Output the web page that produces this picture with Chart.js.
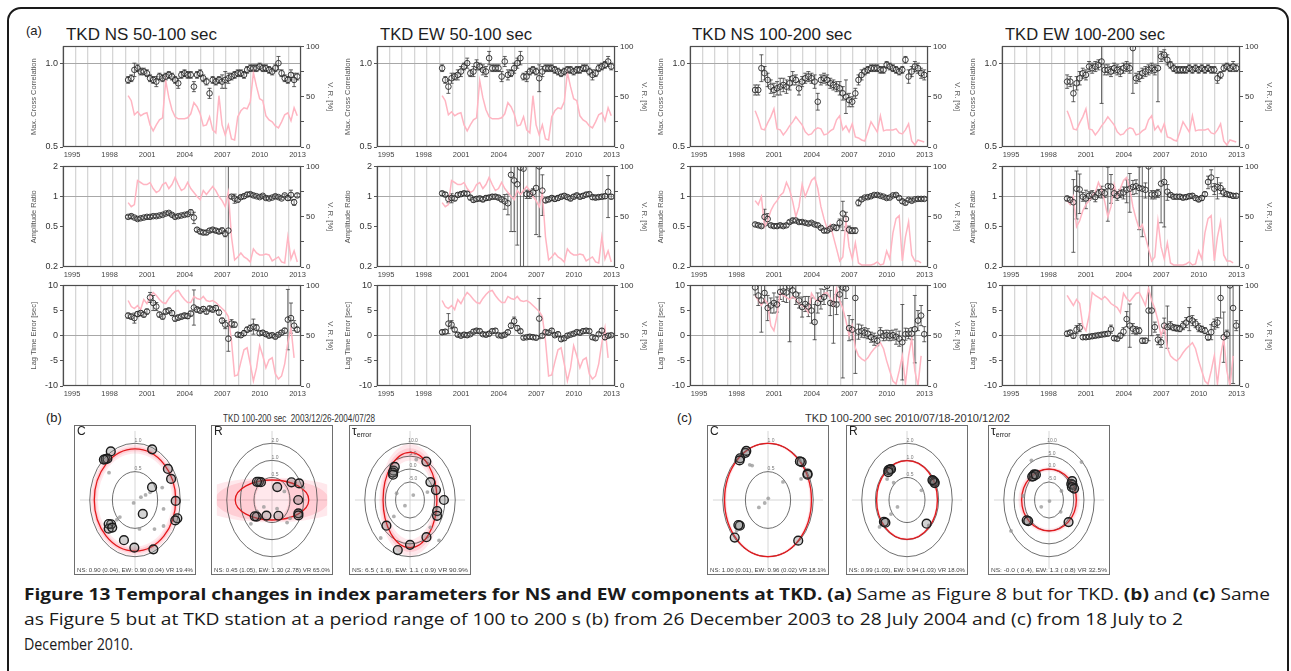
<!DOCTYPE html>
<html>
<head>
<meta charset="utf-8">
<title>TKD index parameters</title>
<script src="https://cdn.jsdelivr.net/npm/chart.js@4.4.1/dist/chart.umd.min.js"></script>
<style>
  html, body { margin: 0; padding: 0; background: #fff; }
  #page { position: relative; width: 1291px; height: 671px; overflow: hidden; font-family: 'Liberation Sans', Arial, sans-serif; color: #222; }
  #page canvas { position: absolute; }
  .txt { position: absolute; white-space: nowrap; transform-origin: 0 0; line-height: 1.15; }
  #border { position: absolute; left: 7px; top: 7px; width: 1278px; height: 720px; border: 2px solid #1a1a1a; border-radius: 14px; }
  .ttl { font-size: 17px; top: 25px; color: #1e1e1e; }
  .tag { font-size: 13px; color: #222; }
  .ptl { font-size: 11px; top: 412px; color: #333; }
  .plet { font-size: 12px; top: 425px; color: #222; }
  .plet sub { font-size: 7px; vertical-align: -2px; }
  .pns { font-size: 6px; top: 567px; color: #444; }
  .cap { font-family: 'Open Sans', sans-serif; font-size: 16px; color: #1a1a1a; line-height: 20px; }
</style>
</head>
<body>
<div id="page">
  <div id="border"></div>

  <div class="txt tag" style="left:26px;top:24px;">(a)</div>
  <div class="txt ttl" style="left:66px" data-w="151">TKD NS 50-100 sec</div>
  <div class="txt ttl" style="left:380px" data-w="152">TKD EW 50-100 sec</div>
  <div class="txt ttl" style="left:692px" data-w="160">TKD NS 100-200 sec</div>
  <div class="txt ttl" style="left:1005px" data-w="160">TKD EW 100-200 sec</div>

  <div class="txt tag" style="left:46px;top:411px;">(b)</div>
  <div class="txt ptl" style="left:223px" data-w="152">TKD 100-200 sec&nbsp; 2003/12/26-2004/07/28</div>
  <div class="txt tag" style="left:677px;top:411px;">(c)</div>
  <div class="txt ptl" style="left:805px" data-w="205">TKD 100-200 sec 2010/07/18-2010/12/02</div>

  <div class="txt cap" style="left:24px;top:584px" data-w="1246"><b>Figure 13 Temporal changes in index parameters for NS and EW components at TKD.</b> <b>(a)</b> Same as Figure 8 but for TKD. <b>(b)</b> and <b>(c)</b> Same</div>
  <div class="txt cap" style="left:24px;top:609px" data-w="1159">as Figure 5 but at TKD station at a period range of 100 to 200 s (b) from 26 December 2003 to 28 July 2004 and (c) from 18 July to 2</div>
  <div class="txt cap" style="left:24px;top:634px" data-w="109">December 2010.</div>
</div>

<script>
// ---- time axis ----
const years = [2000.2, 2000.45, 2000.7, 2000.95, 2001.2, 2001.45, 2001.7, 2001.95, 2002.2, 2002.45,
  2002.7, 2002.95, 2003.2, 2003.45, 2003.7, 2003.95, 2004.2, 2004.45, 2004.7, 2004.95,
  2005.2, 2005.45, 2005.7, 2005.95, 2006.2, 2006.45, 2006.7, 2006.95, 2007.2, 2007.45,
  2007.7, 2007.95, 2008.2, 2008.45, 2008.7, 2008.95, 2009.2, 2009.45, 2009.7, 2009.95,
  2010.2, 2010.45, 2010.7, 2010.95, 2011.2, 2011.45, 2011.7, 2011.95, 2012.2, 2012.45,
  2012.7, 2012.95, 2013.2, 2013.45, 2013.7];
const yearTicks = [1995, 1996, 1997, 1998, 1999, 2000, 2001, 2002, 2003, 2004, 2005, 2006, 2007, 2008, 2009, 2010, 2011, 2012, 2013, 2014];
const yearLabels = [1995, 1998, 2001, 2004, 2007, 2010, 2013];
const ccTicks = [0.5, 1.0];
const ratioTicks = [0.2, 0.5, 1, 2];
const lagTicks = [-10, -5, 0, 5, 10];
const vrTicks = [0, 25, 50, 75, 100];
const vrLabels = [0, 50, 100];

// ---- max cross correlation ----
const ccNS50 = [0.90,0.91,0.96,0.97,0.95,0.95,0.94,0.91,0.90,0.89,0.92,0.91,0.92,0.93,0.92,0.90,0.88,0.93,0.94,0.93,
  0.93,0.86,0.93,0.94,0.91,0.89,0.82,0.90,0.89,0.90,0.89,0.90,0.91,0.92,0.93,0.94,0.94,0.93,0.96,0.97,
  0.97,0.97,0.98,0.97,0.97,0.96,0.95,0.97,1.00,0.94,0.91,0.90,0.93,0.90,0.92];
const ccNS50Err = [0.02,0.02,0.04,0.02,0.02,0.02,0.02,0.02,0.02,0.03,0.02,0.02,0.02,0.02,0.02,0.02,0.03,0.02,0.02,0.02,
  0.02,0.03,0.02,0.02,0.02,0.02,0.03,0.02,0.02,0.02,0.04,0.05,0.03,0.02,0.02,0.02,0.02,0.02,0.02,0.02,
  0.02,0.02,0.02,0.02,0.02,0.02,0.02,0.02,0.04,0.02,0.02,0.02,0.03,0.04,0.02];
const ccEW50 = [0.97,0.90,0.86,0.91,0.92,0.93,0.95,0.98,1.00,0.94,0.95,0.99,0.98,0.96,0.95,1.03,0.97,0.97,0.97,0.92,
  1.01,0.93,0.94,0.97,1.00,1.03,0.92,0.92,0.95,0.96,0.95,0.91,0.95,0.97,0.97,0.97,0.96,0.95,0.94,0.95,
  0.96,0.96,0.95,0.96,0.96,0.97,0.97,0.95,0.93,0.94,0.97,0.98,0.99,1.01,0.98];
const ccEW50Err = [0.02,0.02,0.04,0.03,0.02,0.03,0.03,0.02,0.03,0.02,0.03,0.03,0.02,0.03,0.03,0.04,0.02,0.02,0.02,0.03,
  0.03,0.03,0.02,0.03,0.03,0.04,0.02,0.03,0.02,0.02,0.02,0.08,0.03,0.02,0.02,0.02,0.02,0.02,0.02,0.02,
  0.02,0.02,0.02,0.02,0.02,0.02,0.02,0.02,0.03,0.02,0.02,0.02,0.02,0.03,0.02];
const ccNS100 = [0.84,0.84,0.97,0.94,0.90,0.86,0.84,0.85,0.86,0.87,0.86,0.88,0.91,0.90,0.85,0.89,0.91,0.92,0.91,0.89,
  0.77,0.90,0.91,0.90,0.88,0.87,0.86,0.85,0.82,0.80,0.78,0.77,0.82,0.90,0.93,0.95,0.96,0.97,0.97,0.97,
  0.96,0.96,0.99,0.98,0.97,0.96,0.95,0.96,1.02,0.92,0.95,0.98,0.97,0.94,0.93];
const ccNS100Err = [0.03,0.03,0.08,0.04,0.04,0.04,0.04,0.04,0.05,0.04,0.04,0.04,0.04,0.03,0.04,0.03,0.03,0.03,0.03,0.04,
  0.05,0.03,0.03,0.03,0.03,0.03,0.03,0.04,0.04,0.10,0.04,0.03,0.03,0.03,0.03,0.02,0.02,0.02,0.02,0.02,
  0.02,0.02,0.02,0.02,0.02,0.02,0.02,0.02,0.02,0.04,0.03,0.03,0.03,0.03,0.03];
const ccEW100 = [0.89,0.89,0.82,0.88,0.91,0.94,0.93,0.98,0.97,0.98,0.99,1.01,0.96,0.96,0.95,0.97,0.96,0.95,0.97,0.98,
  0.97,1.09,0.91,0.92,0.94,0.95,0.96,0.97,0.96,0.97,1.04,1.05,1.02,0.99,0.97,0.96,0.96,0.96,0.96,0.97,
  0.96,0.97,0.96,0.97,0.96,0.97,0.96,0.96,0.91,0.93,0.97,0.98,0.97,0.98,0.97];
const ccEW100Err = [0.04,0.03,0.05,0.04,0.04,0.03,0.03,0.03,0.03,0.03,0.03,0.25,0.03,0.03,0.03,0.03,0.03,0.03,0.03,0.03,
  0.03,0.27,0.03,0.03,0.03,0.03,0.03,0.03,0.03,0.20,0.03,0.03,0.03,0.02,0.02,0.02,0.02,0.02,0.02,0.02,
  0.02,0.02,0.02,0.02,0.02,0.02,0.02,0.02,0.03,0.02,0.02,0.02,0.02,0.03,0.02];

// ---- amplitude ratio ----
const arNS50 = [0.63,0.64,0.62,0.60,0.61,0.62,0.63,0.63,0.64,0.64,0.65,0.66,0.68,0.69,0.66,0.63,0.64,0.65,0.66,0.67,
  0.70,0.62,0.47,0.45,0.44,0.44,0.46,0.47,0.46,0.45,0.46,0.43,0.46,1.00,0.96,0.93,0.99,1.01,1.05,1.06,
  1.03,1.01,0.99,1.02,0.97,0.96,0.98,1.01,0.99,0.96,1.03,0.97,1.04,0.88,1.03];
const arNS50Err = [0.02,0.03,0.02,0.02,0.02,0.02,0.02,0.02,0.02,0.02,0.02,0.02,0.02,0.02,0.02,0.02,0.02,0.02,0.02,0.03,
  0.04,0.08,0.02,0.02,0.02,0.02,0.02,0.02,0.02,0.02,0.03,0.03,3.00,0.04,0.10,0.04,0.04,0.05,0.05,0.04,
  0.04,0.03,0.03,0.03,0.03,0.03,0.03,0.04,0.03,0.03,0.03,0.05,0.12,0.06,0.04];
const arEW50 = [1.08,1.05,0.95,0.97,0.96,1.04,1.06,1.08,1.07,0.98,0.93,0.95,0.96,0.94,0.97,0.98,1.00,1.00,0.98,0.94,
  0.90,0.86,1.65,1.45,1.33,1.95,1.90,1.06,1.06,1.10,1.22,2.00,1.15,0.92,0.94,0.97,0.95,0.97,1.00,1.02,
  0.99,0.96,1.00,1.03,1.00,1.02,1.05,1.06,0.99,0.98,0.99,1.00,1.01,1.12,1.00];
const arEW50Err = [0.05,0.05,0.08,0.10,0.05,0.05,0.05,0.05,0.05,0.05,0.05,0.05,0.05,0.05,0.05,0.05,0.05,0.05,0.05,0.05,
  0.15,0.20,1.20,1.00,1.00,1.80,1.70,0.10,0.10,0.10,0.80,1.60,0.50,0.05,0.05,0.05,0.05,0.05,0.05,0.05,
  0.05,0.05,0.05,0.05,0.05,0.05,0.05,0.05,0.05,0.05,0.05,0.05,0.05,0.50,0.05];
const arNS100 = [0.53,0.52,0.51,0.63,0.60,0.52,0.51,0.51,0.52,0.51,0.52,0.56,0.58,0.58,0.56,0.56,0.55,0.54,0.55,0.53,
  0.52,0.49,0.46,0.46,0.48,0.50,0.49,0.55,0.68,0.60,0.47,0.46,0.46,0.87,0.94,0.98,0.99,1.01,1.04,1.04,
  1.02,1.00,0.97,0.98,1.03,1.04,0.97,0.90,0.87,0.93,0.91,0.94,0.95,0.95,0.95];
const arNS100Err = [0.02,0.02,0.02,0.12,0.08,0.02,0.02,0.02,0.02,0.02,0.02,0.02,0.03,0.02,0.02,0.02,0.02,0.02,0.02,0.02,
  0.02,0.02,0.02,0.02,0.02,0.02,0.03,0.05,0.22,0.10,0.04,0.03,0.03,0.06,0.04,0.03,0.03,0.03,0.03,0.03,
  0.03,0.03,0.03,0.03,0.03,0.03,0.04,0.04,0.04,0.03,0.03,0.03,0.03,0.03,0.03];
const arEW100 = [0.96,0.93,0.88,1.20,1.18,1.00,0.96,1.02,1.05,0.99,1.08,1.12,1.08,1.27,1.26,1.08,1.02,1.08,1.10,1.17,
  1.20,1.25,1.27,1.22,1.20,1.17,2.00,1.05,1.05,1.08,1.35,1.40,1.12,1.04,1.00,1.00,1.00,0.98,0.99,1.01,
  1.02,0.97,0.94,0.97,1.06,1.40,1.55,1.20,1.25,1.22,1.10,1.06,1.04,1.02,1.02];
const arEW100Err = [0.05,0.05,0.60,0.60,0.50,0.10,0.20,0.10,0.10,0.10,0.10,0.15,0.10,0.70,0.40,0.10,0.10,0.10,0.15,0.30,
  0.50,0.20,0.20,0.75,0.80,0.20,2.50,0.10,0.10,0.10,0.80,0.90,0.20,0.05,0.05,0.05,0.05,0.05,0.05,0.05,
  0.05,0.05,0.05,0.05,0.05,0.20,0.30,0.15,0.30,0.15,0.10,0.05,0.05,0.05,0.05];

// ---- lag time error ----
const lagNS50 = [4.0,3.8,3.5,4.3,4.5,4.2,4.8,7.6,6.5,5.8,4.2,3.8,4.8,5.0,4.5,3.4,3.6,3.8,4.0,3.9,
  4.4,5.6,5.2,5.0,5.3,4.8,5.4,5.2,5.5,4.6,3.0,2.2,-0.6,2.4,2.2,0.2,0.1,0.5,1.2,1.5,
  1.8,1.6,0.5,0.6,0.3,0.0,0.1,-0.2,0.2,0.6,1.0,3.2,3.5,2.0,1.2];
const lagNS50Err = [0.5,0.5,1.0,0.5,0.5,0.5,0.5,1.0,1.5,0.8,0.5,0.5,0.5,0.5,0.5,0.5,0.5,0.5,0.5,0.5,
  0.5,3.5,0.5,0.5,0.5,0.5,0.5,0.5,0.5,0.5,0.5,0.8,2.5,0.8,0.5,0.4,0.4,0.5,0.5,0.6,
  1.5,0.6,0.4,0.4,0.4,0.4,0.4,0.4,0.4,0.4,0.5,6.0,3.0,1.0,0.5];
const lagEW50 = [0.7,0.8,2.4,2.2,1.2,0.2,0.0,0.2,0.1,0.3,0.8,1.0,0.9,0.3,0.2,0.4,0.9,1.0,0.1,0.0,
  0.2,0.7,2.0,2.9,1.5,0.9,-0.4,-0.3,-0.2,-0.3,-0.4,3.4,0.0,0.7,0.6,1.0,0.1,0.3,-0.7,-0.5,
  0.0,0.2,0.4,0.7,0.6,0.9,1.0,0.9,-0.3,-0.5,0.3,1.0,-0.3,0.0,0.1];
const lagEW50Err = [0.4,0.4,2.0,0.8,0.4,0.4,0.3,0.4,0.4,0.3,0.4,0.4,0.4,0.3,0.4,0.4,0.4,0.4,0.3,0.4,
  0.4,0.4,0.5,0.8,0.5,0.4,0.3,0.3,0.4,0.4,0.4,4.0,0.4,0.4,0.4,0.4,0.3,0.4,0.4,0.4,
  0.4,0.3,0.4,0.4,0.4,0.4,0.4,0.4,0.4,0.4,0.3,0.4,0.5,0.4,0.3];
const lagNS100 = [9.6,8.0,7.0,8.5,5.5,6.0,6.5,6.2,8.7,8.8,8.6,9.8,9.0,8.2,7.0,5.7,6.3,5.8,5.0,2.7,
  6.5,7.3,7.7,9.9,6.5,6.3,6.2,8.2,9.6,9.4,1.5,1.2,7.5,0.8,0.9,0.6,0.4,-0.3,-0.7,-1.0,
  0.6,0.0,0.1,0.0,0.1,-0.2,-0.6,-1.3,0.3,0.4,0.4,1.3,3.0,4.0,0.3];
const lagNS100Err = [1.5,2.0,6.3,2.0,2.5,1.5,2.0,1.5,1.5,2.0,2.0,11.0,1.5,2.0,1.5,2.0,1.5,2.0,2.5,3.5,
  2.0,2.0,1.5,2.0,2.5,7.8,2.0,1.5,18.0,2.0,2.5,2.0,15.0,1.5,1.2,1.0,1.0,1.0,1.2,1.0,
  1.0,1.0,1.0,1.0,1.0,1.5,1.5,7.5,1.2,1.0,1.2,6.7,2.0,2.0,1.5];
const lagEW100 = [0.4,0.6,0.0,1.2,1.6,-0.3,-0.3,-0.2,-0.1,0.0,0.1,0.2,0.3,0.4,1.3,-0.5,-0.6,0.0,0.8,3.3,
  2.0,1.4,1.0,1.0,-1.0,-1.0,5.0,5.0,1.7,-0.8,-1.3,2.0,1.7,2.0,1.6,1.5,1.4,2.0,2.6,3.3,
  3.0,2.4,1.6,1.3,1.0,-0.3,0.7,2.3,2.6,7.5,-0.3,0.3,10.0,5.5,2.0];
const lagEW100Err = [0.5,0.5,0.5,0.8,0.8,0.4,0.4,0.4,0.4,0.4,0.4,0.4,0.4,0.4,0.8,0.4,0.4,0.5,0.8,1.5,
  4.3,1.0,0.8,0.6,0.5,0.5,6.0,5.0,1.0,1.0,1.0,1.5,4.2,0.8,0.6,0.6,0.6,0.8,1.0,2.3,
  1.0,0.8,0.8,0.6,0.6,0.6,1.5,1.0,1.0,4.0,5.0,0.8,20.0,15.0,1.0];

// ---- variance reduction [%] (shared by NS and EW) ----
const vrCC50 = [51,46,32,35,31,33,34,22,16,22,27,29,66,49,37,30,28,28,28,29,
  33,44,40,33,21,22,30,17,14,51,22,12,22,8,7,30,36,39,38,45,
  74,60,48,46,31,27,25,21,19,25,32,34,26,39,31];
const vrCC100 = [36,28,18,17,24,30,38,18,17,12,16,21,25,30,26,22,15,12,13,17,
  19,18,12,13,16,18,27,31,17,21,15,23,10,9,7,6,15,25,20,15,
  31,16,17,17,17,18,14,13,17,23,6,2,7,6,5];
const vrAR50 = [64,60,62,86,84,82,82,84,78,74,76,82,84,78,82,89,82,76,78,84,
  78,74,70,67,76,72,76,80,76,70,66,60,74,30,7,10,14,10,8,5,
  18,14,12,12,13,12,6,8,10,5,4,30,8,16,5];
const vrAR100 = [66,62,70,40,46,56,62,66,71,74,84,77,65,50,60,82,70,78,86,89,
  78,60,48,38,42,30,18,6,10,46,20,8,24,4,2,2,2,2,3,5,
  2,3,16,8,34,48,51,6,30,45,12,6,6,4,null];
const vrLag50 = [85,79,77,80,76,86,82,88,93,90,86,83,82,87,91,94,95,90,86,83,
  83,89,87,86,89,85,84,85,83,80,77,74,69,45,10,11,24,36,38,22,
  5,18,40,30,18,26,28,12,7,10,22,43,58,28,null];
const vrLag100 = [90,85,80,86,82,60,55,70,93,90,88,86,89,86,82,80,78,73,92,87,
  84,88,92,93,87,80,97,85,77,65,50,60,38,30,27,25,28,33,37,40,
  43,37,25,15,5,2,15,30,2,30,47,15,0,30,null];

// ---- polar plots: azimuth [deg] and value of each station pair ----
const bCAz = [-32,-42,-40,-44,23,53,65,59,91,109,112,145,155,181,199,231,229,234,226];
const bCVal = [1.01,0.97,0.95,0.99,0.97,0.91,0.88,0.44,0.90,0.99,0.96,0.30,0.96,0.84,0.75,0.68,0.77,0.72,0.70];
const bCGrayAz = [-50,68,69,69,211,104,70,126,140,228,229,169];
const bCGrayVal = [0.75,0.36,0.25,0.14,0.06,0.65,0.64,0.78,0.67,0.45,0.53,0.52];
const bRAz = [-42,-38,-46,27,54,64,90,112,115,153,204,229,233];
const bRVal = [0.54,0.50,0.58,0.36,0.68,0.93,0.76,0.85,0.88,0.41,0.40,0.56,0.60];
const bRGrayAz = [239,228,236,61,129,72,140,-49,144];
const bRGrayVal = [0.49,0.85,0.33,0.41,0.65,1.05,0.66,0.51,0.31];
const bTAz = [28,-35,-30,-38,-40,55,73,90,108,115,151,180,197,229];
const bTVal = [4.9,1.9,2.8,1.5,0.8,0.1,1.2,4.5,1.9,2.5,4.5,5.4,8.3,3.2];
const bTGrayAz = [228,-68,70,104,224,138,-35,11,137,231,40];
const bTGrayVal = [-8.7,-5.0,-3.0,1.2,8.5,9.1,4.5,4.0,2.5,-1.9,-9.5];
const cCAz = [-31,-29,-40,-42,48,46,62,63,234,236,228,137];
const cCVal = [0.97,0.99,0.96,0.94,1.00,0.98,0.99,0.98,0.77,0.79,0.99,0.98];
const cCGrayAz = [-33,-30,46,10,234,237,63,232,45];
const cCGrayVal = [0.74,0.70,0.46,0.03,0.09,0.24,0.82,0.88,0.99];
const cRAz = [-35,-38,-33,-40,60,62,64,58,233,230,134];
const cRVal = [0.91,0.93,0.89,0.88,0.94,0.97,0.96,0.92,0.87,0.84,0.80];
const cRGrayAz = [-44,240,235,62,61,232,133,-50];
const cRGrayVal = [0.53,0.35,0.54,0.46,0.83,1.18,0.91,0.75];
const cTAz = [-39,-36,-42,-33,60,63,57,66,70,234,231,132];
const cTVal = [-0.1,0.3,0.2,-0.3,0.5,0.9,1.4,0.2,1.0,1.4,1.0,0.8];
const cTGrayAz = [235,60,-29,47,237,129,73,-83,150];
const cTGrayVal = [-7.4,-5.0,5.6,9.6,10.0,-4.7,1.8,0.7,-11.5];

// fitted NS / EW values with errors, and variance reduction, for b-C, b-R, b-T, c-C, c-R, c-T
const polarNS = [0.90, 0.45, 6.5, 1.00, 0.99, -0.03];
const polarNSErr = [0.04, 1.05, 1.6, 0.01, 1.03, 0.4];
const polarEW = [0.90, 1.30, 1.1, 0.96, 0.94, 1.3];
const polarEWErr = [0.04, 2.78, 0.9, 0.02, 1.03, 0.8];
const polarVR = [19.4, 65.0, 90.9, 18.1, 18.0, 32.5];

Chart.defaults.font.family = "'Liberation Sans', Arial, sans-serif";
Chart.defaults.animation = false;

const page = document.getElementById('page');

// layout of the small time-series panels
const PLOT_W = 238, PLOT_H = 102, AX_L = 36, AX_R = 36, AX_B = 16, PAD_T = 6;
const colLeft = [63, 377, 690, 1002];
const rowTop = [45, 165, 284];

const rows = [
  { type: 'linear', min: 0.5, max: 1.1, ticks: ccTicks, ref: 1.0, title: 'Max. Cross Correlation', fmt: v => v.toFixed(1), floor: -10 },
  { type: 'logarithmic', min: 0.2, max: 2, ticks: ratioTicks, ref: 1, title: 'Amplitude Ratio', fmt: v => String(v), floor: 0.01 },
  { type: 'linear', min: -10, max: 10, ticks: lagTicks, ref: 0, title: 'Lag Time Error [sec]', fmt: v => String(v), floor: -100 }
];

const frameBox = {
  id: 'frameBox',
  afterDraw(chart) {
    const { ctx, chartArea: a } = chart;
    ctx.save();
    ctx.strokeStyle = '#4d4d4d';
    ctx.lineWidth = 1.2;
    ctx.strokeRect(Math.round(a.left) + 0.5, Math.round(a.top) + 0.5, Math.round(a.right - a.left) - 1, Math.round(a.bottom - a.top) - 1);
    ctx.restore();
  }
};

function errorBars(errs, floor) {
  return {
    id: 'errorBars',
    beforeDatasetsDraw(chart) {
      const { ctx, chartArea: a, scales } = chart;
      const pts = chart.data.datasets[0].data;
      ctx.save();
      ctx.beginPath();
      ctx.rect(a.left, a.top, a.right - a.left, a.bottom - a.top);
      ctx.clip();
      ctx.strokeStyle = '#3a3a3a';
      ctx.lineWidth = 0.8;
      pts.forEach((p, i) => {
        const e = errs[i];
        if (p.y == null || !e) return;
        const px = scales.x.getPixelForValue(p.x);
        const y1 = scales.y.getPixelForValue(Math.max(p.y - e, floor));
        const y2 = scales.y.getPixelForValue(p.y + e);
        ctx.beginPath();
        ctx.moveTo(px, y1); ctx.lineTo(px, y2);
        ctx.moveTo(px - 2, y1); ctx.lineTo(px + 2, y1);
        ctx.moveTo(px - 2, y2); ctx.lineTo(px + 2, y2);
        ctx.stroke();
      });
      ctx.restore();
    }
  };
}

function seriesChart(col, row, vals, errs, vr) {
  const cfg = rows[row];
  const cv = document.createElement('canvas');
  cv.width = AX_L + PLOT_W + AX_R;
  cv.height = PAD_T + PLOT_H + AX_B;
  cv.style.left = (colLeft[col] - AX_L) + 'px';
  cv.style.top = (rowTop[row] - PAD_T) + 'px';
  page.appendChild(cv);

  new Chart(cv, {
    type: 'scatter',
    data: {
      datasets: [
        {
          data: years.map((t, i) => ({ x: t, y: vals[i] })),
          yAxisID: 'y',
          pointRadius: 2.8,
          borderColor: '#262626',
          borderWidth: 0.9,
          backgroundColor: 'rgba(255,255,255,0.15)',
          order: 0
        },
        {
          data: years.map((t, i) => ({ x: t, y: vr[i] })),
          yAxisID: 'y2',
          showLine: true,
          spanGaps: false,
          pointRadius: 0,
          borderColor: '#ffb5c2',
          borderWidth: 1.5,
          order: 1
        }
      ]
    },
    options: {
      responsive: false,
      events: [],
      layout: { padding: { top: PAD_T } },
      plugins: { legend: { display: false }, tooltip: { enabled: false } },
      scales: {
        x: {
          type: 'linear', min: 1995, max: 2014,
          afterBuildTicks: s => { s.ticks = yearTicks.map(v => ({ value: v })); },
          afterFit: s => { s.height = AX_B; },
          grid: { color: '#d6d6d6', lineWidth: 1.3, drawTicks: false },
          border: { display: false },
          ticks: {
            autoSkip: false, maxRotation: 0, minRotation: 0, labelOffset: 9, padding: 3,
            font: { size: 7.5 }, color: '#444',
            callback: v => yearLabels.includes(v) ? String(v) : ''
          }
        },
        y: {
          type: cfg.type, position: 'left', min: cfg.min, max: cfg.max,
          afterBuildTicks: s => { s.ticks = cfg.ticks.map(v => ({ value: v })); },
          afterFit: s => { s.width = AX_L; },
          grid: {
            color: c => (c.tick && c.tick.value === cfg.ref) ? '#a8a8a8' : 'rgba(0,0,0,0)',
            tickColor: '#555', tickLength: 3
          },
          border: { display: false },
          ticks: { font: { size: 9 }, color: '#333', padding: 2, callback: cfg.fmt },
          title: { display: true, text: cfg.title, font: { size: 7.5 }, color: '#555', padding: { top: 2, bottom: 0 } }
        },
        y2: {
          type: 'linear', position: 'right', min: 0, max: 100,
          afterBuildTicks: s => { s.ticks = vrTicks.map(v => ({ value: v })); },
          afterFit: s => { s.width = AX_R; },
          grid: { drawOnChartArea: false, tickColor: '#555', tickLength: 3 },
          border: { display: false },
          ticks: { font: { size: 8 }, color: '#333', padding: 2, callback: v => vrLabels.includes(v) ? String(v) : '' },
          title: { display: true, text: 'V. R. [%]', font: { size: 7.5 }, color: '#555', padding: { top: 2, bottom: 0 } }
        }
      }
    },
    plugins: [errorBars(errs, cfg.floor), frameBox]
  });
}

seriesChart(0, 0, ccNS50, ccNS50Err, vrCC50);
seriesChart(1, 0, ccEW50, ccEW50Err, vrCC50);
seriesChart(2, 0, ccNS100, ccNS100Err, vrCC100);
seriesChart(3, 0, ccEW100, ccEW100Err, vrCC100);
seriesChart(0, 1, arNS50, arNS50Err, vrAR50);
seriesChart(1, 1, arEW50, arEW50Err, vrAR50);
seriesChart(2, 1, arNS100, arNS100Err, vrAR100);
seriesChart(3, 1, arEW100, arEW100Err, vrAR100);
seriesChart(0, 2, lagNS50, lagNS50Err, vrLag50);
seriesChart(1, 2, lagEW50, lagEW50Err, vrLag50);
seriesChart(2, 2, lagNS100, lagNS100Err, vrLag100);
seriesChart(3, 2, lagEW100, lagEW100Err, vrLag100);

// ---- polar panels ----
const R_AX = 1.22, POL_W = 122, POL_H = 150, POL_TOP = 425;
const radial = {
  C: { r: v => Math.max(0, v), rings: [0.5, 1.0], band: (v, e, k) => v + 2 * k * e, fmt: v => v.toFixed(2), efmt: e => e.toFixed(2) },
  R: { r: v => v > 0.2 ? Math.log10(v / 0.2) : 0, rings: [0.5, 1.0, 2.0], band: (v, e, k) => v * Math.pow(e, 2 * k), fmt: v => v.toFixed(2), efmt: e => e.toFixed(2) },
  T: { r: v => Math.max(0, (v + 12) / 22), rings: [-5, 0, 5, 10], band: (v, e, k) => v + 2 * k * e, fmt: v => (v < 0 ? '' : ' ') + v.toFixed(1), efmt: e => ' ' + e.toFixed(1) }
};

// rings, error band and fitted ellipse (NS radius north-south, EW radius east-west)
function polarDecor(kind, ns, nsE, ew, ewE) {
  const m = radial[kind];
  return {
    id: 'polarDecor',
    beforeDatasetsDraw(chart) {
      const { ctx, chartArea: a, scales: { x, y } } = chart;
      const X = v => x.getPixelForValue(v), Y = v => y.getPixelForValue(v);
      const cx = X(0), cy = Y(0);
      const ell = (rEW, rNS) => ctx.ellipse(cx, cy, Math.max(0.01, X(rEW) - cx), Math.max(0.01, cy - Y(rNS)), 0, 0, Math.PI * 2);
      ctx.save();
      ctx.beginPath();
      ctx.rect(a.left, a.top, a.right - a.left, a.bottom - a.top);
      ctx.clip();

      ctx.strokeStyle = '#cccccc';
      ctx.lineWidth = 0.8;
      ctx.beginPath();
      ctx.moveTo(a.left, cy); ctx.lineTo(a.right, cy);
      ctx.moveTo(cx, a.top); ctx.lineTo(cx, a.bottom);
      ctx.stroke();

      [[1, 'rgba(255,120,140,0.17)'], [0.5, 'rgba(255,100,120,0.2)']].forEach(([k, col]) => {
        ctx.beginPath();
        ell(m.r(m.band(ew, ewE, k)), m.r(m.band(ns, nsE, k)));
        ctx.moveTo(cx + Math.max(0.01, X(m.r(m.band(ew, ewE, -k))) - cx), cy);
        ell(m.r(m.band(ew, ewE, -k)), m.r(m.band(ns, nsE, -k)));
        ctx.fillStyle = col;
        ctx.fill('evenodd');
      });

      ctx.strokeStyle = '#4a4a4a';
      ctx.lineWidth = 0.8;
      ctx.fillStyle = '#777';
      ctx.font = "5px 'Liberation Sans', Arial, sans-serif";
      ctx.textAlign = 'center';
      ctx.textBaseline = 'bottom';
      m.rings.forEach(v => {
        const r = m.r(v);
        ctx.beginPath();
        ell(r, r);
        ctx.stroke();
        ctx.fillText(v.toFixed(1), cx + 3, Y(r) - 0.5);
      });

      ctx.strokeStyle = '#e3191c';
      ctx.lineWidth = 1.3;
      ctx.beginPath();
      ell(m.r(ew), m.r(ns));
      ctx.stroke();
      ctx.restore();
    }
  };
}

function polarChart(idx, left, kind, az, val, grayAz, grayVal) {
  const m = radial[kind];
  const toXY = (a, v) => {
    const r = m.r(v), t = a * Math.PI / 180;
    return { x: r * Math.sin(t), y: r * Math.cos(t) };
  };
  const cv = document.createElement('canvas');
  cv.width = POL_W;
  cv.height = POL_H;
  cv.style.left = left + 'px';
  cv.style.top = POL_TOP + 'px';
  cv.style.outline = '1px solid #6e6e6e';
  cv.style.outlineOffset = '-1px';
  page.appendChild(cv);

  new Chart(cv, {
    type: 'scatter',
    data: {
      datasets: [
        {
          data: az.map((a, i) => toXY(a, val[i])),
          pointRadius: 4.4,
          borderColor: '#1c1c1c',
          borderWidth: 1.4,
          backgroundColor: 'rgba(110,110,110,0.3)',
          order: 0
        },
        {
          data: grayAz.map((a, i) => toXY(a, grayVal[i])),
          pointRadius: 1.9,
          borderWidth: 0,
          backgroundColor: 'rgba(150,150,150,0.75)',
          order: 1
        }
      ]
    },
    options: {
      responsive: false,
      events: [],
      layout: { padding: 0 },
      plugins: { legend: { display: false }, tooltip: { enabled: false } },
      scales: {
        x: { type: 'linear', min: -R_AX, max: R_AX, display: false },
        y: { type: 'linear', min: -R_AX, max: R_AX, display: false }
      }
    },
    plugins: [polarDecor(kind, polarNS[idx], polarNSErr[idx], polarEW[idx], polarEWErr[idx])]
  });

  const letter = document.createElement('div');
  letter.className = 'txt plet';
  letter.style.left = (left + 3) + 'px';
  letter.innerHTML = kind === 'T' ? '&tau;<sub>error</sub>' : kind;
  page.appendChild(letter);

  const ns = document.createElement('div');
  ns.className = 'txt pns';
  ns.style.left = (left + 3) + 'px';
  ns.dataset.w = POL_W - 6;
  ns.textContent = 'NS: ' + m.fmt(polarNS[idx]) + ' (' + m.efmt(polarNSErr[idx]) + '), EW: ' +
    m.fmt(polarEW[idx]) + ' (' + m.efmt(polarEWErr[idx]) + ') VR ' + polarVR[idx].toFixed(1) + '%';
  page.appendChild(ns);
}

polarChart(0, 74, 'C', bCAz, bCVal, bCGrayAz, bCGrayVal);
polarChart(1, 211, 'R', bRAz, bRVal, bRGrayAz, bRGrayVal);
polarChart(2, 349, 'T', bTAz, bTVal, bTGrayAz, bTGrayVal);
polarChart(3, 707, 'C', cCAz, cCVal, cCGrayAz, cCGrayVal);
polarChart(4, 846, 'R', cRAz, cRVal, cRGrayAz, cRGrayVal);
polarChart(5, 988, 'T', cTAz, cTVal, cTGrayAz, cTGrayVal);

// squeeze text lines to the widths measured on the figure
function fitText() {
  document.querySelectorAll('[data-w]').forEach(el => {
    el.style.transform = 'none';
    const w = el.getBoundingClientRect().width;
    if (w > 0) el.style.transform = 'scaleX(' + (Number(el.dataset.w) / w) + ')';
  });
}
fitText();
if (document.fonts && document.fonts.ready) document.fonts.ready.then(fitText);
</script>
</body>
</html>
